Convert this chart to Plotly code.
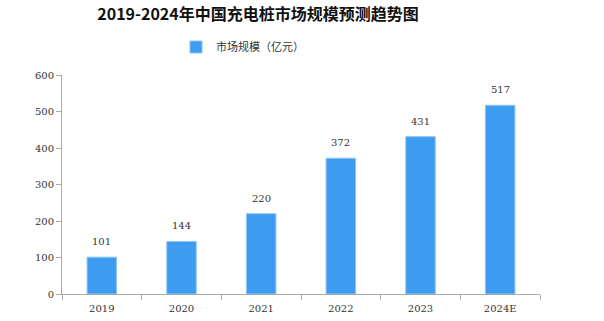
import plotly.graph_objects as go

years = ["2019", "2020", "2021", "2022", "2023", "2024E"]
values = [101, 144, 220, 372, 431, 517]
series_name = "市场规模（亿元）"
title_text = "2019-2024年中国充电桩市场规模预测趋势图"

fig = go.Figure()
fig.add_trace(go.Bar(
    x=years, y=values, name=series_name,
    marker=dict(color="#3d9cef", line=dict(color="#8cc4f5", width=1)),
    width=0.37,
))
for i, v in enumerate(values):
    fig.add_annotation(x=i, y=v, text=str(v), showarrow=False, yanchor="bottom", yshift=8,
                       font=dict(size=10, color="#333", family="DejaVu Serif"))

fig.update_layout(
    width=604, height=321,
    margin=dict(l=62, r=64, t=75, b=27),
    paper_bgcolor="white", plot_bgcolor="white",
    title=dict(text=title_text, x=258/604, xanchor="center", y=1-14/321, yanchor="middle",
               font=dict(size=16, color="#111", family="Noto Sans CJK SC", weight="bold")),
    showlegend=True,
    legend=dict(x=(176-62)/478, xanchor="left", y=(294-47)/219, yanchor="middle",
                orientation="h", font=dict(size=11, color="#333", family="Noto Sans CJK SC"),
                itemwidth=30, bgcolor="rgba(0,0,0,0)"),
    bargap=0.63,
)
fig.update_xaxes(type="category", categoryorder="array", categoryarray=years,
                 showline=True, linecolor="#aaa", linewidth=1, ticks="outside", ticklen=5,
                 tickcolor="#aaa", tickson="boundaries", showgrid=False, ticklabelstandoff=5,
                 automargin=False,
                 tickfont=dict(size=10, color="#333", family="DejaVu Serif"))
fig.update_yaxes(range=[0, 600], dtick=100, showline=True, linecolor="#aaa", linewidth=1,
                 ticks="outside", ticklen=5, tickcolor="#aaa", showgrid=False, zeroline=False,
                 tickfont=dict(size=10, color="#333", family="DejaVu Serif"))

fig.write_html("out.html")
